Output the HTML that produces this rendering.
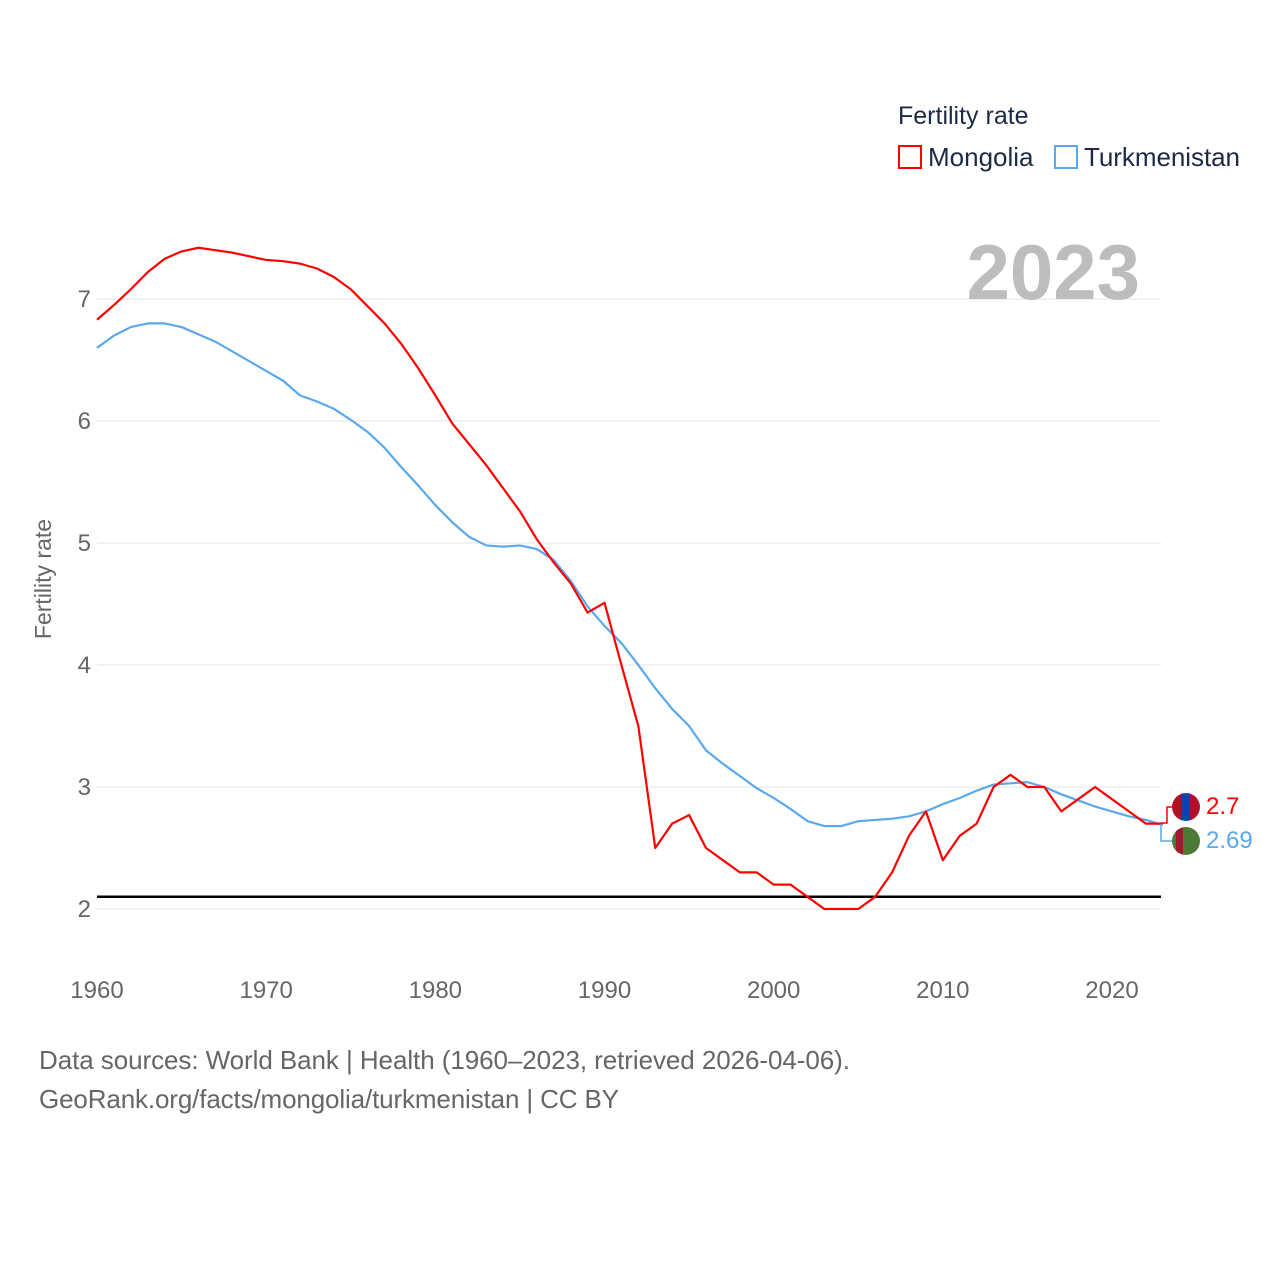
<!DOCTYPE html>
<html><head><meta charset="utf-8"><style>
body{margin:0;background:#fff;font-family:"Liberation Sans",sans-serif}
svg text{font-family:"Liberation Sans",sans-serif}
</style></head><body>
<svg id="chart" width="1280" height="1280" xmlns="http://www.w3.org/2000/svg">
<g id="grid"></g>
<g id="lines"></g>
<text x="898" y="124" font-size="25" fill="#1d2a44">Fertility rate</text>
<g><rect x="899" y="146" width="22" height="22" fill="none" stroke="#ff0000" stroke-width="2"/><text x="928" y="166" font-size="26" fill="#1d2a44">Mongolia</text></g>
<g><rect x="1055" y="146" width="22" height="22" fill="none" stroke="#5aa8ee" stroke-width="2"/><text x="1084" y="166" font-size="26" fill="#1d2a44" textLength="156">Turkmenistan</text></g>
<text x="1140" y="299" font-size="78" font-weight="bold" fill="#bdbdbd" text-anchor="end">2023</text>
<text transform="translate(51,579) rotate(-90)" font-size="23" fill="#666" text-anchor="middle">Fertility rate</text>
<text x="39" y="1069" font-size="26" fill="#666" textLength="811">Data sources: World Bank | Health (1960–2023, retrieved 2026-04-06).</text>
<text x="39" y="1108" font-size="26" fill="#666" textLength="580">GeoRank.org/facts/mongolia/turkmenistan | CC BY</text>
<g><clipPath id="c1"><circle cx="1186" cy="807" r="14"/></clipPath><g clip-path="url(#c1)"><rect x="1172" y="793" width="10" height="28" fill="#b0102c"/><rect x="1181" y="793" width="10" height="28" fill="#0048a8"/><rect x="1190" y="793" width="10" height="28" fill="#b0102c"/></g></g>
<g><clipPath id="c2"><circle cx="1186" cy="841" r="14"/></clipPath><g clip-path="url(#c2)"><rect x="1172" y="827" width="28" height="28" fill="#4a7a35"/><rect x="1176" y="827" width="7" height="28" fill="#a01830"/></g></g>
<path d="M1161 823 H1167 V807 H1172" fill="none" stroke="#ff0000" stroke-width="1.5"/>
<path d="M1161 824 H1161 V841 H1172" fill="none" stroke="#5aa8ee" stroke-width="1.5"/>
<text x="1206" y="814" font-size="24" fill="#ff0000">2.7</text>
<text x="1206" y="848" font-size="24" fill="#5aa8ee">2.69</text>
</svg>
<script>
const years=[];for(let y=1960;y<=2023;y++)years.push(y);
const mongolia=[6.83,6.95,7.08,7.22,7.33,7.39,7.42,7.40,7.38,7.35,7.32,7.31,7.29,7.25,7.18,7.08,6.94,6.80,6.63,6.43,6.21,5.98,5.81,5.64,5.45,5.26,5.03,4.84,4.67,4.43,4.51,4.0,3.5,2.5,2.7,2.77,2.5,2.4,2.3,2.3,2.2,2.2,2.1,2.0,2.0,2.0,2.1,2.3,2.6,2.8,2.4,2.6,2.7,3.0,3.1,3.0,3.0,2.8,2.9,3.0,2.9,2.8,2.7,2.7];
const turkmenistan=[6.6,6.70,6.77,6.80,6.80,6.77,6.71,6.65,6.57,6.49,6.41,6.33,6.21,6.16,6.10,6.01,5.91,5.78,5.62,5.47,5.31,5.17,5.05,4.98,4.97,4.98,4.95,4.86,4.69,4.48,4.32,4.18,4.00,3.81,3.64,3.50,3.30,3.19,3.09,2.99,2.91,2.82,2.72,2.68,2.68,2.72,2.73,2.74,2.76,2.80,2.86,2.91,2.97,3.02,3.03,3.04,3.00,2.94,2.89,2.84,2.80,2.76,2.73,2.69];
const yTicks=[2,3,4,5,6,7];
const xTicks=[1960,1970,1980,1990,2000,2010,2020];
const replacement=2.1;
const NS="http://www.w3.org/2000/svg";
const X=y=>97+(y-1960)*(1112-97)/60;
const Y=v=>909-(v-2)*122;
const grid=document.getElementById('grid'),lines=document.getElementById('lines');
function mk(tag,attrs,parent){const e=document.createElementNS(NS,tag);for(const k in attrs)e.setAttribute(k,attrs[k]);parent.appendChild(e);return e;}
yTicks.forEach(t=>{
 const l=mk('line',{x1:97,x2:1161,y1:Y(t),y2:Y(t),stroke:'#e6e6e6','stroke-width':1},grid);
 
 
 const tx=mk('text',{x:91,y:Y(t)+8,'font-size':24,fill:'#666','text-anchor':'end'},grid);tx.textContent=t;
 
 
});
xTicks.forEach(t=>{
 const tx=mk('text',{x:X(t),y:998,'font-size':24,fill:'#666','text-anchor':'middle'},grid);tx.textContent=t;
 
 
});
const rl=mk('line',{x1:97,x2:1161,y1:Y(replacement),y2:Y(replacement),stroke:'#000','stroke-width':2.5},lines);


function series(vals,color,name){
 const p=mk('polyline',{points:vals.map((v,i)=>X(years[i])+','+Y(v)).join(' '),fill:'none',stroke:color,'stroke-width':2.2,'stroke-linejoin':'round'},lines);
 
 
}
series(turkmenistan,'#5aa8ee','line-turkmenistan');
series(mongolia,'#ff0000','line-mongolia');
</script>
</body></html>
